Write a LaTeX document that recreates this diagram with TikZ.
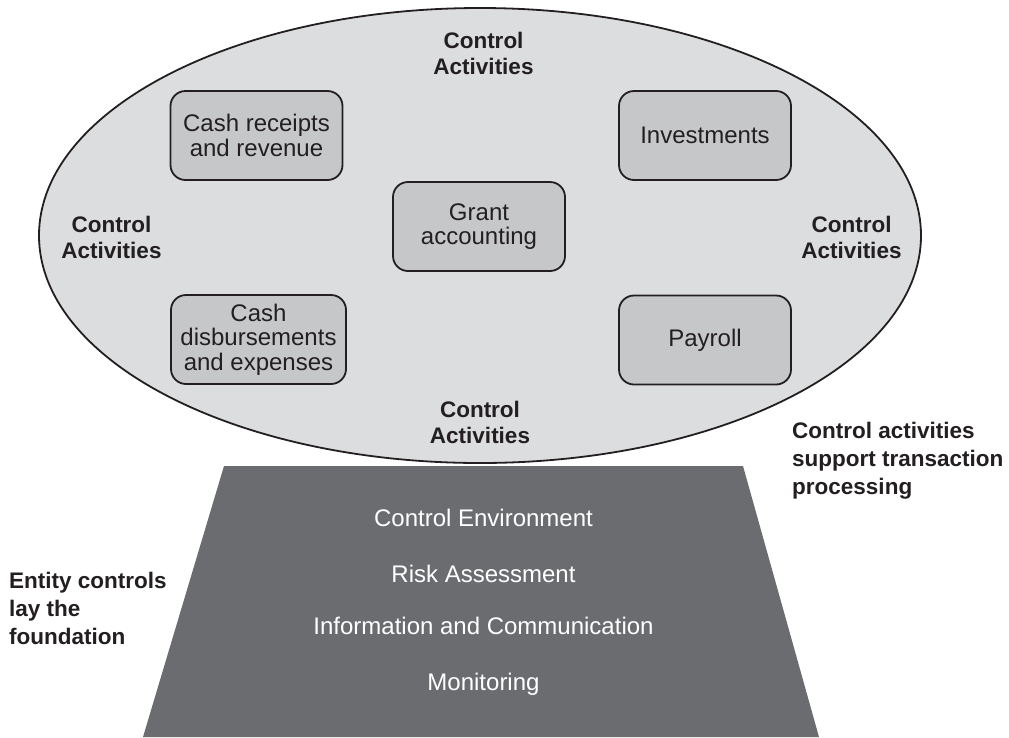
\documentclass[tikz,border=0pt]{standalone}
\usepackage{fontspec}
\setmainfont{Liberation Sans}
\usetikzlibrary{shapes.geometric}

\definecolor{ink}{HTML}{231F20}
\definecolor{ovalfill}{HTML}{DCDDDF}
\definecolor{procfill}{HTML}{C6C7C9}
\definecolor{basefill}{HTML}{6B6C70}

\newcommand{\procfont}{\fontsize{24}{24.5}\selectfont}
\newcommand{\labfont}{\fontsize{22.5}{26}\selectfont\bfseries}
\newcommand{\notefont}{\fontsize{22.5}{28}\selectfont\bfseries}

\begin{document}
\begin{tikzpicture}[x=1pt,y=-1pt,
  proc/.style={draw=ink, line width=1.8pt, fill=procfill, rounded corners=15pt,
    minimum width=172pt, minimum height=89pt, inner sep=0pt,
    align=center, font=\procfont, text=ink},
  ctl/.style={align=center, font=\labfont, text=ink, inner sep=0pt},
  note/.style={align=left, anchor=west, font=\notefont, text=ink, inner sep=0pt},
  layer/.style={anchor=base, font=\fontsize{24}{24}\selectfont, text=white, inner sep=0pt}]

\useasboundingbox (0,0) rectangle (1009,737);

% entity-level foundation
\fill[basefill] (224,466) -- (743,466) -- (819,737) -- (143,737) -- cycle;
\node[layer] (env)  at (483.5,526) {Control Environment};
\node[layer] (risk) at (483.5,582) {Risk Assessment};
\node[layer] (info) at (483.5,634) {Information and Communication};
\node[layer] (mon)  at (483.5,690) {Monitoring};

% transaction-level control activities
\draw[ink, line width=1.8pt, fill=ovalfill] (480,235.5) ellipse [x radius=441, y radius=227.5];

\node[proc] (receipts) at (256.5,135.5) {Cash receipts\\and revenue};
\node[proc] (invest)   at (705,135.5)   {Investments};
\node[proc] (grant)    at (479,226.5)   {Grant\\accounting};
\node[proc, minimum width=175pt] (disb) at (258.5,339.5) {Cash\\disbursements\\and expenses};
\node[proc] (payroll)  at (705,340)     {Payroll};

\node[ctl] (ctop)    at (483.5,53.5)  {Control\\Activities};
\node[ctl] (cleft)   at (111.5,237.5) {Control\\Activities};
\node[ctl] (cright)  at (851.5,237.5) {Control\\Activities};
\node[ctl] (cbottom) at (480,422.5)   {Control\\Activities};

\node[note] (support) at (792,461) {Control activities\\support transaction\\processing};
\node[note] (entity)  at (9,608.5) {Entity controls\\lay the\\foundation};
\end{tikzpicture}
\end{document}
